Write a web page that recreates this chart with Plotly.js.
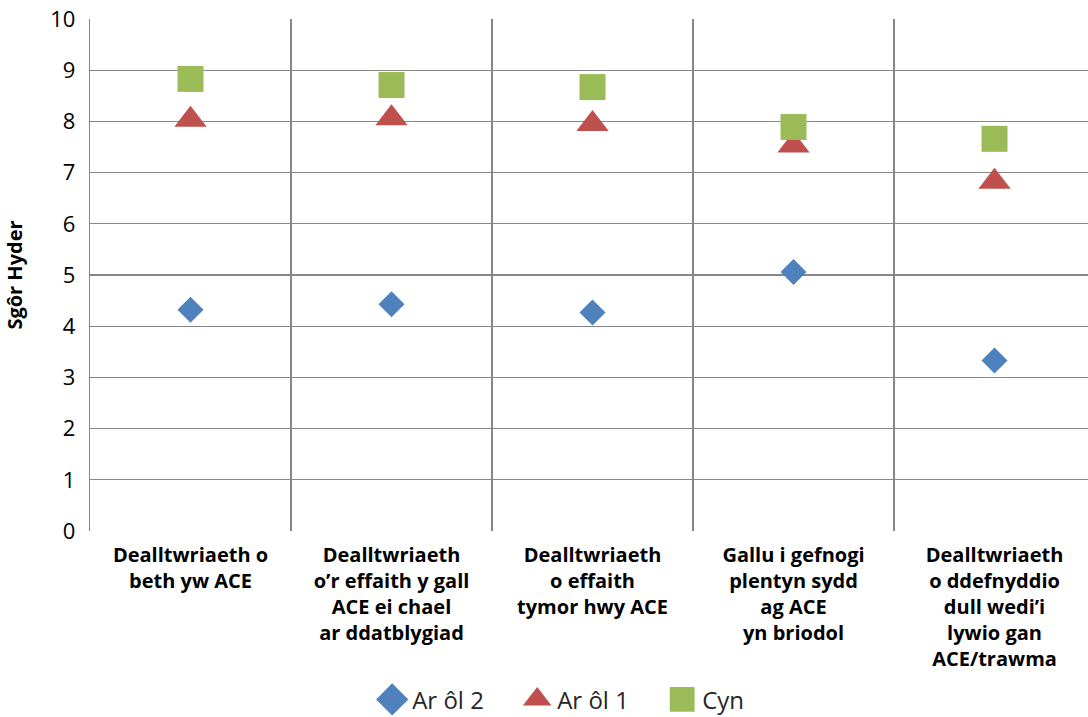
<!DOCTYPE html>
<html><head><meta charset="utf-8">
<script src="https://cdn.plot.ly/plotly-3.0.1.min.js"></script>
<style>html,body{margin:0;padding:0;background:#fff;overflow:hidden}#chart{width:1088px;height:717px}</style>
</head><body><div id="chart"></div>
<script>
const categories = [
  "<b>Dealltwriaeth o<br>beth yw ACE</b>",
  "<b>Dealltwriaeth<br>o’r effaith y gall<br>ACE ei chael<br>ar ddatblygiad</b>",
  "<b>Dealltwriaeth<br>o effaith<br>tymor hwy ACE</b>",
  "<b>Gallu i gefnogi<br>plentyn sydd<br>ag ACE<br>yn briodol</b>",
  "<b>Dealltwriaeth<br>o ddefnyddio<br>dull wedi’i<br>lywio gan<br>ACE/trawma</b>"
];
const arOl2 = [4.32, 4.43, 4.27, 5.06, 3.33];
const arOl1 = [8.03, 8.06, 7.95, 7.53, 6.82];
const cyn = [8.83, 8.71, 8.67, 7.89, 7.66];
const yTicks = [0,1,2,3,4,5,6,7,8,9,10];

const font = "'Open Sans', 'Liberation Sans', sans-serif";
const traces = [
  {x: categories, y: arOl2, name: "Ar ôl 2", type: "scatter", mode: "markers",
   marker: {symbol: "diamond", size: 20, color: "#4F81BD"}},
  {x: categories, y: arOl1, name: "Ar ôl 1", type: "scatter", mode: "markers",
   marker: {symbol: "triangle-up", size: 28, color: "#C0504D"}},
  {x: categories, y: cyn, name: "Cyn", type: "scatter", mode: "markers",
   marker: {symbol: "square", size: 26, color: "#9BBB59"}}
];
const layout = {
  width: 1088, height: 717,
  margin: {l: 90, r: 0, t: 19, b: 186},
  paper_bgcolor: "#fff", plot_bgcolor: "#fff",
  font: {family: font, size: 17, color: "#000"},
  showlegend: true,
  legend: {orientation: "h", x: 0.542, xref: "container", xanchor: "center",
           y: 0.024, yref: "container", yanchor: "middle",
           font: {size: 24, color: "#262626"}, itemwidth: 30, entrywidth: 100,
           traceorder: "normal"},
  xaxis: {type: "category", range: [-0.5, 4.465], tickson: "boundaries", ticklen: 0,
          showgrid: true, gridcolor: "#868686", gridwidth: 1.3, ticklabelstandoff: 10,
          showline: false, zeroline: false, tickfont: {size: 20, color: "#000"}, automargin: false},
  yaxis: {range: [0, 10], tickvals: yTicks, showgrid: true, gridcolor: "#868686", gridwidth: 1.3,
          showline: true, linecolor: "#868686", linewidth: 1.3, zeroline: false, ticks: "", ticklen: 0,
          ticklabelstandoff: 9,
          tickfont: {size: 22, color: "#000"}, automargin: false,
          title: {text: "<b>Sgôr Hyder</b>", font: {size: 20, color: "#000"}, standoff: 22}}
};
Plotly.newPlot("chart", traces, layout, {displayModeBar: false, staticPlot: true}).then(function(gd){
  gd.querySelectorAll(".legend .legendpoints path.scatterpts").forEach(function(p){
    const t = p.getAttribute("transform") || "";
    p.setAttribute("transform", t + " scale(1.55)");
  });
});
</script>
</body></html>
